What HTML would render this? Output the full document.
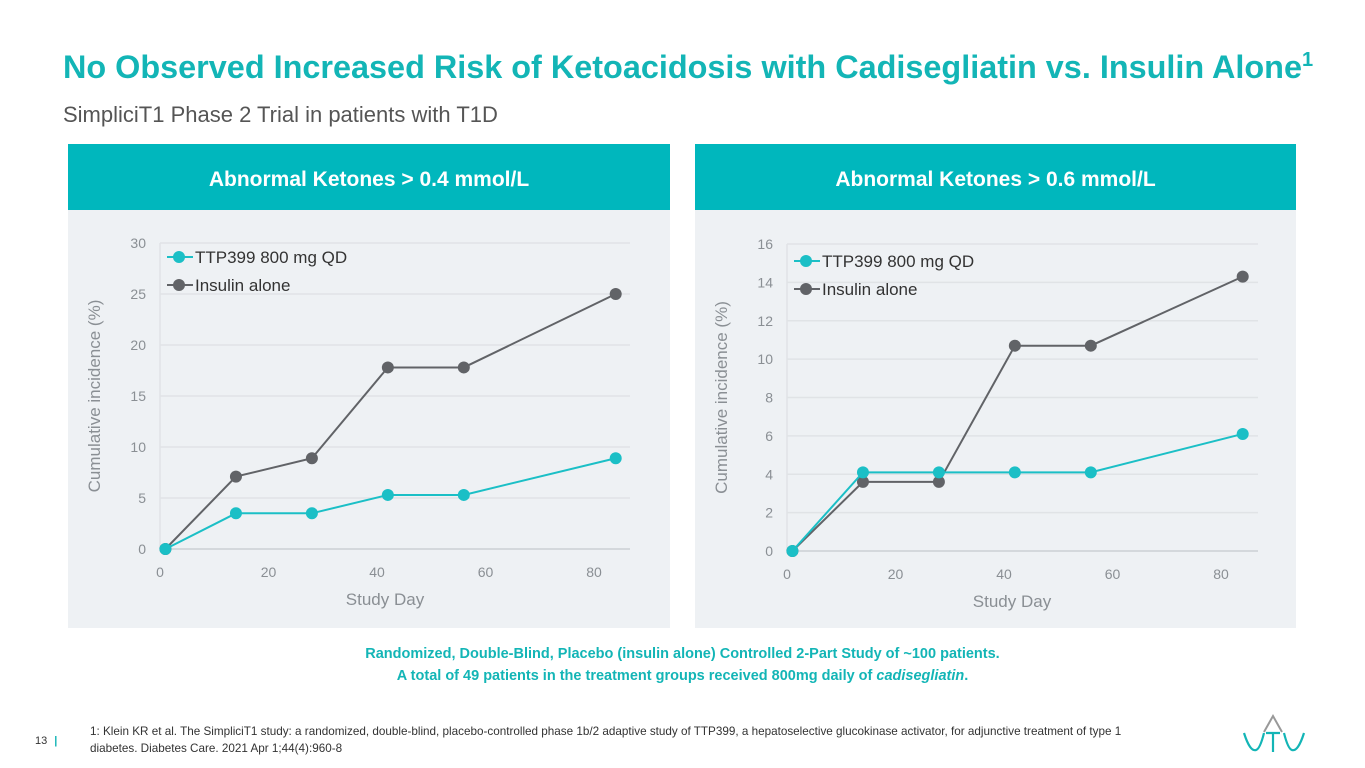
<!DOCTYPE html>
<html><head><meta charset="utf-8"><style>
body{margin:0;width:1365px;height:768px;background:#fff;font-family:"Liberation Sans",sans-serif;overflow:hidden;position:relative}
.t{position:absolute}
</style></head><body>
<div class="t" style="left:63px;top:49px;font-size:32.4px;font-weight:bold;color:#13b5b6;white-space:nowrap">No Observed Increased Risk of Ketoacidosis with Cadisegliatin vs. Insulin Alone<sup style="font-size:20px">1</sup></div>
<div class="t" style="left:63px;top:102px;font-size:22px;color:#555">SimpliciT1 Phase 2 Trial in patients with T1D</div>
<svg id="svg" class="t" style="left:0;top:0" width="1365" height="768"></svg>
<div class="t" style="left:0;width:1365px;top:643px;text-align:center;font-size:14.5px;font-weight:bold;color:#13b5b6;line-height:22px">Randomized, Double-Blind, Placebo (insulin alone) Controlled 2-Part Study of ~100 patients.<br>A total of 49 patients in the treatment groups received 800mg daily of <i>cadisegliatin</i>.</div>
<div class="t" style="left:35px;top:735px;font-size:11px;color:#333">13 <span style="color:#13b5b6;font-weight:bold;margin-left:4px">|</span></div>
<div class="t" style="left:90px;top:723px;font-size:11.7px;color:#333;line-height:17px;width:1070px">1: Klein KR et al. The SimpliciT1 study: a randomized, double-blind, placebo-controlled phase 1b/2 adaptive study of TTP399, a hepatoselective glucokinase activator, for adjunctive treatment of type 1 diabetes. Diabetes Care. 2021 Apr 1;44(4):960-8</div>
<svg class="t" style="left:1240px;top:712px" width="70" height="45">
<path d="M24 20 L33 4 L42 20" fill="none" stroke="#999" stroke-width="2"/>
<path d="M4 21 Q10 40 16 38 Q20 37 24 21 M26 21 H40 M33 21 V40 M44 21 Q48 37 52 38 Q58 40 64 21" fill="none" stroke="#13b5b6" stroke-width="2.2"/>
</svg>
<script>
const days=[1,14,28,42,56,84];
const xTicks=[0,20,40,60,80];
const leftTTP=[0,3.5,3.5,5.3,5.3,8.9];
const leftIns=[0,7.1,8.9,17.8,17.8,25];
const leftYTicks=[0,5,10,15,20,25,30];
const rightTTP=[0,4.1,4.1,4.1,4.1,6.1];
const rightIns=[0,3.6,3.6,10.7,10.7,14.3];
const rightYTicks=[0,2,4,6,8,10,12,14,16];
const svg=document.getElementById('svg');
const NS='http://www.w3.org/2000/svg';
function mk(tag,attrs,txt){const e=document.createElementNS(NS,tag);for(const k in attrs)e.setAttribute(k,attrs[k]);if(txt!=null)e.textContent=txt;svg.appendChild(e);return e;}
function chart(o){
  let e=mk('rect',{x:o.px,y:144,width:o.pw,height:66,fill:'#00b7bd'});
  
  
  e=mk('text',{x:o.px+o.pw/2,y:186,'text-anchor':'middle','font-size':21,'font-weight':'bold',fill:'#fff'},o.title);
  
  
  e=mk('rect',{x:o.px,y:210,width:o.pw,height:418,fill:'#eef1f4'});
  
  
  const ymax=o.yt[o.yt.length-1];
  const X=d=>o.x0+(o.x80-o.x0)*d/80;
  const Y=v=>o.yb+(o.yt0-o.yb)*v/ymax;
  o.yt.forEach(t=>{
    e=mk('line',{x1:o.gx1,x2:o.gx2,y1:Y(t),y2:Y(t),stroke:t===0?'#d4d8dc':'#e0e3e6','stroke-width':t===0?2:1.5});
    
    
    e=mk('text',{x:o.gx1-14,y:Y(t)+5,'text-anchor':'end','font-size':14,fill:'#8a8f94'},t);
    
    
  });
  e=mk('line',{x1:o.gx1,x2:o.gx1,y1:Y(ymax),y2:Y(0),stroke:'#e0e3e6','stroke-width':1.5});
  
  
  xTicks.forEach(t=>{
    e=mk('text',{x:X(t),y:o.yb+28,'text-anchor':'middle','font-size':14,fill:'#8a8f94'},t);
    
    
  });
  e=mk('text',{x:(o.x0+o.x80)/2+8,y:o.yb+56,'text-anchor':'middle','font-size':17,fill:'#8a8f94'},'Study Day');
  
  
  const cy=(o.yb+Y(ymax))/2;
  e=mk('text',{x:o.gx1-60,y:cy,'text-anchor':'middle','font-size':17,fill:'#8a8f94',transform:`rotate(-90 ${o.gx1-60} ${cy})`},'Cumulative incidence (%)');
  
  
  [[o.ins,'#616367','series-insulin'],[o.ttp,'#1bbfc6','series-ttp399']].forEach(([vals,c,n])=>{
    e=mk('polyline',{points:vals.map((v,i)=>X(days[i])+','+Y(v)).join(' '),fill:'none',stroke:c,'stroke-width':2});
    
    
    vals.forEach((v,i)=>{
      e=mk('circle',{cx:X(days[i]),cy:Y(v),r:6,fill:c});
      
      
    });
  });
  [['TTP399 800 mg QD','#1bbfc6',0],['Insulin alone','#616367',1]].forEach(([l,c,i])=>{
    const ly=o.ly+i*28;
    e=mk('line',{x1:o.gx1+7,x2:o.gx1+33,y1:ly,y2:ly,stroke:c,'stroke-width':2});
    
    
    e=mk('circle',{cx:o.gx1+19,cy:ly,r:6,fill:c});
    
    
    e=mk('text',{x:o.gx1+35,y:ly+6,'font-size':17,fill:'#333'},l);
    
    
  });
}
chart({px:68,pw:602,title:'Abnormal Ketones > 0.4 mmol/L',x0:160,x80:594,gx1:160,gx2:630,yb:549,yt0:243,yt:leftYTicks,ttp:leftTTP,ins:leftIns,ly:257});
chart({px:695,pw:601,title:'Abnormal Ketones > 0.6 mmol/L',x0:787,x80:1221,gx1:787,gx2:1258,yb:551,yt0:244,yt:rightYTicks,ttp:rightTTP,ins:rightIns,ly:261});
</script>
</body></html>
